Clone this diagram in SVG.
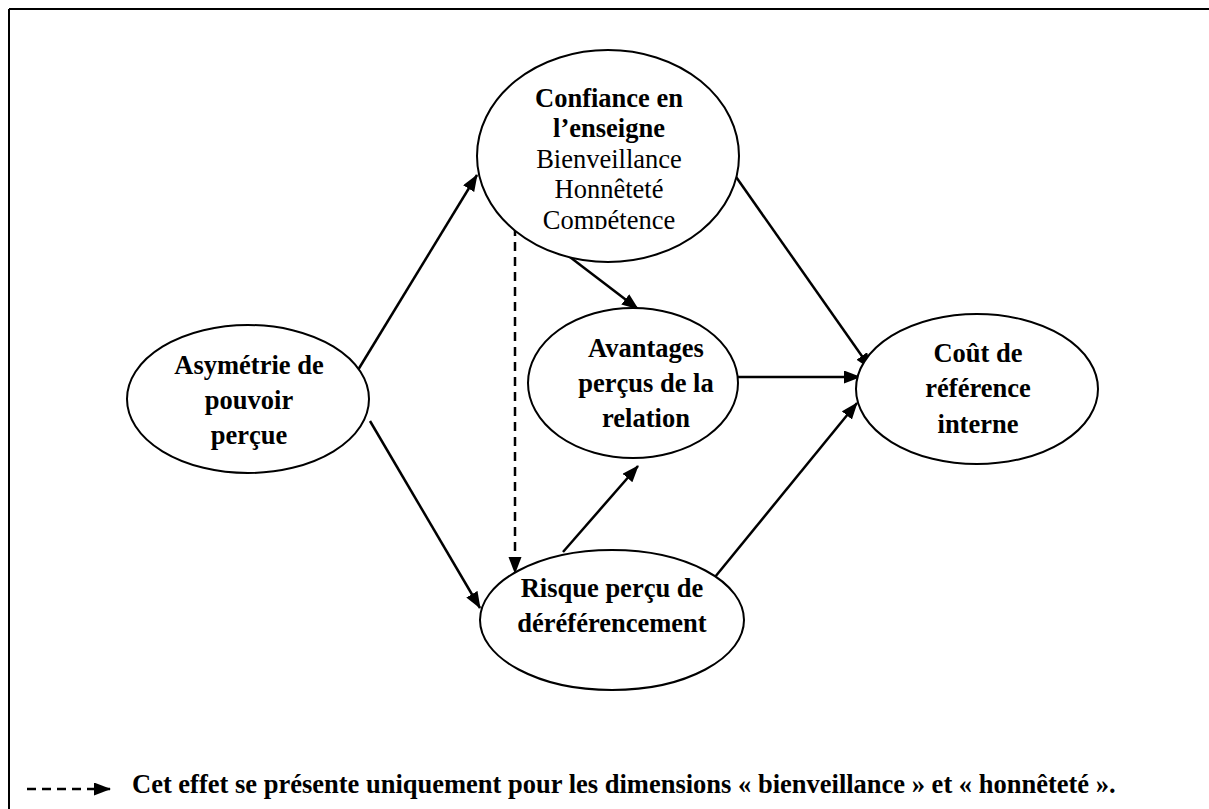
<svg xmlns="http://www.w3.org/2000/svg" width="1209" height="809" viewBox="0 0 1209 809">
<style>
  .node ellipse { fill: #ffffff; stroke: #000000; stroke-width: 2; }
  text { font-family: "Liberation Serif", "Times New Roman", serif; font-size: 26.5px; fill: #000000; text-anchor: middle; }
  .b { font-weight: bold; }
  .r { font-weight: normal; }
  .conn line { stroke: #000000; stroke-width: 2.5; fill: none; }
  .dash { stroke-dasharray: 9 6; }
</style>
<defs>
  <marker id="arr" markerUnits="userSpaceOnUse" markerWidth="18" markerHeight="14" refX="16" refY="6.5" orient="auto">
    <path d="M0,0 L17,6.5 L0,13 z" fill="#000000"/>
  </marker>
  <clipPath id="clipTop">
    <rect x="470" y="40" width="280" height="189"/>
  </clipPath>
</defs>
<rect x="0" y="0" width="1209" height="809" fill="#ffffff"/>
<g id="frame">
  <line x1="9" y1="9" x2="1209" y2="9" stroke="#000000" stroke-width="2"/>
  <line x1="9" y1="9" x2="9" y2="809" stroke="#000000" stroke-width="2"/>
</g>
<g id="connectors" class="conn">
  <line x1="358" y1="370" x2="477" y2="175" marker-end="url(#arr)"/>
  <line x1="370" y1="421" x2="480" y2="608" marker-end="url(#arr)"/>
  <line x1="562" y1="251" x2="638" y2="309" marker-end="url(#arr)"/>
  <line class="dash" x1="515" y1="227" x2="515" y2="573" marker-end="url(#arr)"/>
  <line x1="563" y1="552" x2="638" y2="466" marker-end="url(#arr)"/>
  <line x1="738" y1="377" x2="860" y2="377" marker-end="url(#arr)"/>
  <line x1="734" y1="174" x2="871" y2="369" marker-end="url(#arr)"/>
  <line x1="715" y1="577" x2="857" y2="403" marker-end="url(#arr)"/>
</g>
<g id="node-confiance" class="node">
  <ellipse cx="608" cy="156" rx="131" ry="106"/>
  <g clip-path="url(#clipTop)">
    <text x="609" y="107" class="b">Confiance en</text>
    <text x="609" y="137" class="b">l’enseigne</text>
    <text x="609" y="168" class="r">Bienveillance</text>
    <text x="609" y="198" class="r">Honnêteté</text>
    <text x="609" y="229" class="r">Compétence</text>
  </g>
</g>
<g id="node-asymetrie" class="node">
  <ellipse cx="248" cy="399" rx="121" ry="74"/>
  <text x="249" y="374" class="b">Asymétrie de</text>
  <text x="249" y="409" class="b">pouvoir</text>
  <text x="249" y="444" class="b">perçue</text>
</g>
<g id="node-avantages" class="node">
  <ellipse cx="633" cy="383" rx="105" ry="75"/>
  <text x="646" y="357" class="b">Avantages</text>
  <text x="646" y="392" class="b">perçus de la</text>
  <text x="646" y="427" class="b">relation</text>
</g>
<g id="node-risque" class="node">
  <ellipse cx="612" cy="620" rx="132" ry="70"/>
  <text x="612" y="597" class="b">Risque perçu de</text>
  <text x="612" y="632" class="b">déréférencement</text>
</g>
<g id="node-cout" class="node">
  <ellipse cx="977" cy="389" rx="121" ry="75"/>
  <text x="978" y="362" class="b">Coût de</text>
  <text x="978" y="397" class="b">référence</text>
  <text x="978" y="433" class="b">interne</text>
</g>
<g id="legend" class="conn">
  <line class="dash" x1="27" y1="789" x2="110" y2="789" marker-end="url(#arr)"/>
  <text x="132" y="793" class="b" style="text-anchor:start">Cet effet se présente uniquement pour les dimensions « bienveillance » et « honnêteté ».</text>
</g>
</svg>
